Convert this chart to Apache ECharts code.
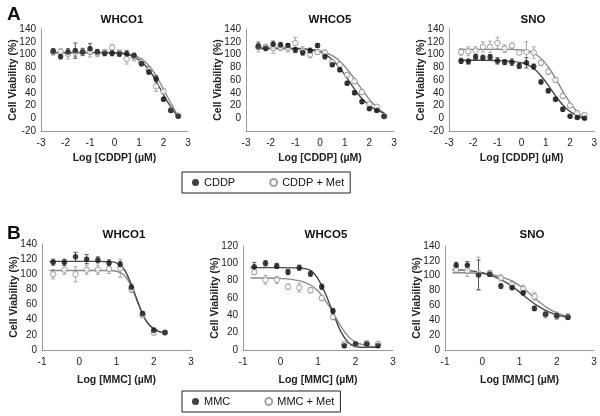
<!DOCTYPE html>
<html>
<head>
<meta charset="utf-8">
<script src="https://cdn.jsdelivr.net/npm/echarts@6/dist/echarts.min.js"></script>
<style>html,body{margin:0;padding:0;background:#fff}#c{width:600px;height:416px}</style>
</head>
<body>
<div id="c"></div>
<script>
// ---------- Data ----------
const panelTitles = ['WHCO1', 'WHCO5', 'SNO'];
const legendA = ['CDDP', 'CDDP + Met'];
const legendB = ['MMC', 'MMC + Met'];

// Panel A: Log [CDDP] (µM)
const logCddp = [-2.5, -2.2, -1.9, -1.6, -1.3, -1.0, -0.7, -0.4, -0.1, 0.2, 0.5, 0.8, 1.1, 1.4, 1.7, 2.0, 2.3, 2.6];
const whco1Cddp      = [105, 97, 104, 106, 104, 109, 104, 102, 102, 101, 101, 98, 86, 73, 62, 30, 12, 3];
const whco1CddpMet   = [104, 104, 101, 103, 104, 104, 102, 104, 111, 103, 93, 96, 88, 76, 50, 42, 13, 4];
const whco1CddpErr    = [4, 4, 5, 12, 5, 8, 4, 4, 4, 4, 5, 4, 4, 4, 5, 3, 2, 2];
const whco1CddpMetErr = [5, 5, 8, 6, 6, 8, 5, 4, 4, 4, 8, 6, 5, 5, 8, 4, 3, 2];
const whco5Cddp      = [113, 110, 116, 115, 114, 107, 103, 106, 114, 97, 84, 76, 55, 40, 26, 15, 12, 3];
const whco5CddpMet   = [112, 112, 110, 111, 110, 118, 106, 100, 104, 103, 88, 84, 68, 58, 41, 22, 18, 3];
const whco5CddpErr    = [5, 4, 5, 4, 3, 4, 4, 4, 3, 4, 3, 3, 3, 3, 3, 2, 2, 2];
const whco5CddpMetErr = [8, 4, 8, 5, 6, 9, 6, 5, 4, 4, 4, 4, 3, 4, 3, 3, 3, 2];
const snoCddp        = [90, 89, 96, 95, 96, 90, 88, 88, 82, 87, 81, 57, 43, 30, 14, 3, 1, 0];
const snoCddpMet     = [104, 105, 106, 112, 112, 118, 109, 114, 103, 104, 103, 87, 73, 60, 35, 20, 8, 5];
const snoCddpErr      = [4, 4, 4, 4, 4, 5, 4, 5, 4, 8, 4, 3, 3, 3, 3, 2, 2, 2];
const snoCddpMetErr   = [5, 7, 6, 8, 9, 9, 6, 4, 3, 16, 9, 4, 4, 4, 4, 3, 3, 3];

// Fitted curves
const fitXA = [-2.6, -2, -1.5, -1, -0.5, 0, 0.3, 0.6, 0.9, 1.2, 1.5, 1.8, 2.1, 2.4, 2.6];
const whco1CddpFit    = [103, 103, 103, 103, 103, 102.5, 101.5, 99, 94, 85, 71, 51, 30, 12, 2];
const whco1CddpMetFit = [103, 103, 103, 103, 103, 103, 102.5, 101, 97, 90, 78, 60, 38, 17, 3];
const whco5CddpFit    = [110, 110, 110, 109.5, 108, 104, 98, 88, 74, 57, 40, 27, 17, 11, 8];
const whco5CddpMetFit = [109, 109, 109, 109, 108, 106, 102, 96, 86, 72, 56, 40, 25, 14, 8];
const snoCddpFit      = [91, 91, 91, 90.5, 89.5, 87, 83, 75, 62, 46, 30, 17, 8, 2, -1];
const snoCddpMetFit   = [108, 108, 108, 108, 108, 107, 105, 100, 90, 75, 56, 36, 19, 6, -1];

// Panel B: Log [MMC] (µM)
const logMmc = [-0.7, -0.4, -0.1, 0.2, 0.5, 0.8, 1.1, 1.4, 1.7, 2.0, 2.3];
const logMmcWhco5 = [-0.7, -0.4, -0.1, 0.2, 0.5, 0.8, 1.1, 1.4, 1.7, 2.0, 2.3, 2.6];
const whco1Mmc       = [116, 116, 123, 120, 119, 115, 113, 83, 48, 26, 23];
const whco1MmcMet    = [100, 106, 100, 106, 106, 107, 108, 80, 46, 23, 23];
const whco1MmcErr     = [4, 4, 6, 6, 4, 4, 4, 4, 3, 3, 2];
const whco1MmcMetErr  = [6, 6, 10, 6, 6, 6, 12, 4, 3, 3, 2];
const whco5Mmc       = [96, 100, 97, 90, 95, 88, 73, 45, 5, 7, 7, 5];
const whco5MmcMet    = [90, 81, 81, 73, 72, 69, 60, 38, 7, 6, 8, 7];
const whco5MmcErr     = [5, 3, 3, 3, 3, 3, 3, 3, 2, 2, 2, 2];
const whco5MmcMetErr  = [3, 5, 4, 3, 5, 3, 3, 3, 2, 2, 2, 2];
const snoMmc         = [114, 114, 101, 102, 86, 84, 77, 56, 48, 46, 44];
const snoMmcMet      = [108, 107, 103, 103, 97, 88, 82, 72, 48, 46, 45];
const snoMmcErr       = [4, 5, 20, 3, 3, 3, 3, 3, 3, 3, 3];
const snoMmcMetErr    = [4, 8, 22, 4, 4, 5, 5, 5, 5, 5, 4];

const fitXB1 = [-0.8, -0.5, 0, 0.5, 0.8, 1.0, 1.2, 1.4, 1.6, 1.8, 2.0, 2.3];
const whco1MmcFit     = [117, 117, 117, 117, 116.5, 115, 107, 86, 60, 38, 28, 22];
const whco1MmcMetFit  = [105, 105, 105, 105, 105, 104, 99, 84, 59, 38, 28, 22];
const fitXB2 = [-0.8, -0.5, 0, 0.5, 0.8, 1.0, 1.2, 1.4, 1.6, 1.8, 2.0, 2.3, 2.6];
const whco5MmcFit     = [95, 95, 95, 94.5, 92, 82, 65, 43, 22, 9, 4, 3, 3];
const whco5MmcMetFit  = [83, 83, 82.5, 80, 75, 68, 57, 43, 28, 16, 9, 5, 3];
const fitXB3 = [-0.8, -0.5, 0, 0.3, 0.6, 0.9, 1.2, 1.5, 1.8, 2.1, 2.3];
const snoMmcFit       = [108, 107.5, 104, 99, 92, 82, 70, 59, 51, 46, 44];
const snoMmcMetFit    = [104, 104, 103, 101, 97, 90, 79, 66, 55, 48, 45];

// ---------- Build chart ----------
const FONT = 'Liberation Sans, Arial, sans-serif';
const zip = (xs, ys) => xs.map((x, i) => [x, ys[i]]);
const zip3 = (xs, ys, es) => xs.map((x, i) => [x, ys[i], es[i]]);

const grids = [
  {left: 41, top: 29, width: 147, height: 102},
  {left: 246, top: 29, width: 148, height: 102},
  {left: 449, top: 29, width: 146, height: 102},
  {left: 42, top: 244, width: 149, height: 106},
  {left: 243, top: 246, width: 150, height: 104},
  {left: 445, top: 246, width: 149, height: 104}
];

const axisLine = {show: true, onZero: false, lineStyle: {color: '#9a9a9a', width: 1}};
const labelStyle = {color: '#222', fontSize: 10, fontFamily: FONT};
const nameStyle = {color: '#222', fontSize: 10.5, fontWeight: 'bold', fontFamily: FONT};

const xAxes = grids.map((g, i) => ({
  type: 'value', gridIndex: i,
  min: i < 3 ? -3 : -1, max: 3, interval: 1,
  axisLine, axisTick: {show: false}, splitLine: {show: false},
  axisLabel: Object.assign({margin: 7}, labelStyle),
  name: i < 3 ? 'Log [CDDP] (µM)' : 'Log [MMC] (µM)',
  nameLocation: 'middle', nameGap: i < 3 ? 22 : 25, nameMoveOverlap: false, nameTextStyle: nameStyle
}));
const yRanges = [[-20, 140], [-20, 140], [-20, 140], [0, 140], [0, 120], [0, 140]];
const yAxes = grids.map((g, i) => ({
  type: 'value', gridIndex: i,
  min: yRanges[i][0], max: yRanges[i][1], interval: 20,
  axisLine, axisTick: {show: false}, splitLine: {show: false},
  axisLabel: Object.assign({margin: 5, formatter: v => (i === 1 && v === -20) ? '' : String(v)}, labelStyle),
  name: 'Cell Viability (%)', nameLocation: 'middle', nameGap: 22, nameMoveOverlap: false, nameTextStyle: nameStyle
}));

function errBar(color) {
  return function (params, api) {
    const x = api.value(0), y = api.value(1), e = api.value(2);
    const t = api.coord([x, y + e]), b = api.coord([x, y - e]);
    const w = 2;
    const st = {stroke: color, lineWidth: 1};
    return {type: 'group', children: [
      {type: 'line', shape: {x1: t[0], y1: t[1], x2: b[0], y2: b[1]}, style: st},
      {type: 'line', shape: {x1: t[0] - w, y1: t[1], x2: t[0] + w, y2: t[1]}, style: st},
      {type: 'line', shape: {x1: b[0] - w, y1: b[1], x2: b[0] + w, y2: b[1]}, style: st}
    ]};
  };
}

const panels = [
  {x: logCddp, f: whco1Cddp, o: whco1CddpMet, fe: whco1CddpErr, oe: whco1CddpMetErr, fx: fitXA, ff: whco1CddpFit, of: whco1CddpMetFit, names: legendA},
  {x: logCddp, f: whco5Cddp, o: whco5CddpMet, fe: whco5CddpErr, oe: whco5CddpMetErr, fx: fitXA, ff: whco5CddpFit, of: whco5CddpMetFit, names: legendA},
  {x: logCddp, f: snoCddp, o: snoCddpMet, fe: snoCddpErr, oe: snoCddpMetErr, fx: fitXA, ff: snoCddpFit, of: snoCddpMetFit, names: legendA},
  {x: logMmc, f: whco1Mmc, o: whco1MmcMet, fe: whco1MmcErr, oe: whco1MmcMetErr, fx: fitXB1, ff: whco1MmcFit, of: whco1MmcMetFit, names: legendB},
  {x: logMmcWhco5, f: whco5Mmc, o: whco5MmcMet, fe: whco5MmcErr, oe: whco5MmcMetErr, fx: fitXB2, ff: whco5MmcFit, of: whco5MmcMetFit, names: legendB},
  {x: logMmc, f: snoMmc, o: snoMmcMet, fe: snoMmcErr, oe: snoMmcMetErr, fx: fitXB3, ff: snoMmcFit, of: snoMmcMetFit, names: legendB}
];

const series = [];
panels.forEach((p, i) => {
  const ax = {xAxisIndex: i, yAxisIndex: i};
  series.push(Object.assign({type: 'custom', name: 'errO' + i, renderItem: errBar('#a8a8a8'), data: zip3(p.x, p.o, p.oe), silent: true, z: 1}, ax));
  series.push(Object.assign({type: 'custom', name: 'errF' + i, renderItem: errBar('#555'), data: zip3(p.x, p.f, p.fe), silent: true, z: 1}, ax));
  series.push(Object.assign({type: 'line', name: 'fitO' + i, data: zip(p.fx, p.of), smooth: 0.4, showSymbol: false, symbol: 'none',
    lineStyle: {color: '#8a8a8a', width: 1.4}, z: 2}, ax));
  series.push(Object.assign({type: 'line', name: 'fitF' + i, data: zip(p.fx, p.ff), smooth: 0.4, showSymbol: false, symbol: 'none',
    lineStyle: {color: '#4a4a4a', width: 1.4}, z: 2}, ax));
  series.push(Object.assign({type: 'scatter', name: p.names[1], data: zip(p.x, p.o), symbol: 'circle', symbolSize: 5.5,
    itemStyle: {color: '#fff', borderColor: '#8a8a8a', borderWidth: 1}, z: 3}, ax));
  series.push(Object.assign({type: 'scatter', name: p.names[0], data: zip(p.x, p.f), symbol: 'circle', symbolSize: 5.5,
    itemStyle: {color: '#111'}, z: 4}, ax));
});

const titleX = [117, 325, 528, 119, 321, 527];
const titleY = [9, 9, 9, 224, 224, 224];
const titles = panelTitles.concat(panelTitles).map((t, i) => ({
  text: t, left: titleX[i], top: titleY[i], textAlign: 'center',
  textStyle: {fontSize: 11.5, fontWeight: 'bold', color: '#111', fontFamily: FONT}
}));
titles.push({text: 'A', left: 2, top: 0, textStyle: {fontSize: 19, fontWeight: 'bold', color: '#111', fontFamily: FONT}});
titles.push({text: 'B', left: 2, top: 219, textStyle: {fontSize: 19, fontWeight: 'bold', color: '#111', fontFamily: FONT}});

const legendCommon = {
  orient: 'horizontal', itemWidth: 7, itemHeight: 7, itemGap: 34,
  borderColor: '#222', borderWidth: 1, padding: [5, 6, 5, 10],
  textStyle: {fontSize: 11, color: '#111', fontFamily: FONT},
  selectedMode: false
};

const option = {
  animation: false,
  backgroundColor: '#fff',
  title: titles,
  grid: grids,
  xAxis: xAxes,
  yAxis: yAxes,
  legend: [
    Object.assign({data: legendA.map(n => ({name: n, icon: 'circle'})), left: 182, top: 172}, legendCommon),
    Object.assign({data: legendB.map(n => ({name: n, icon: 'circle'})), left: 182, top: 391}, legendCommon)
  ],
  series
};

echarts.init(document.getElementById('c'), null, {renderer: 'canvas'}).setOption(option);
</script>
</body>
</html>
